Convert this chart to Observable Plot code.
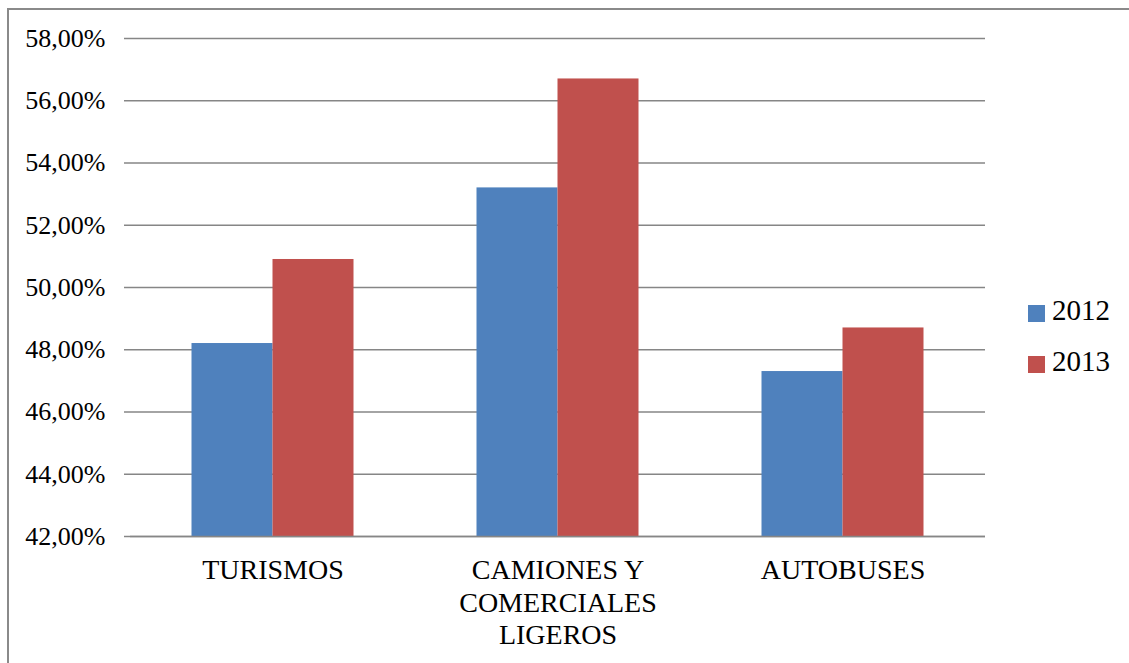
<!DOCTYPE html>
<html>
<head>
<meta charset="utf-8">
<script src="https://cdn.jsdelivr.net/npm/d3@7"></script>
<script src="https://cdn.jsdelivr.net/npm/@observablehq/plot@0.6"></script>
<style>
  html, body { margin: 0; padding: 0; background: #fff; }
  #page { position: relative; width: 1129px; height: 663px; overflow: hidden; font-family: "Liberation Serif", Tinos, "DejaVu Serif", serif; }
  #box { position: absolute; left: 7px; top: 8px; width: 1300px; height: 800px; border-left: 2px solid #8a8a8a; border-top: 2px solid #8a8a8a; box-sizing: border-box; }
  #chart { position: absolute; left: 0; top: 0; }
  #chart svg, #chart svg text { font-family: "Liberation Serif", Tinos, "DejaVu Serif", serif !important; }
  .legend { position: absolute; left: 1028px; font-size: 29px; color: #000; line-height: 1; }
  .legend .sw { position: absolute; left: 0; width: 17px; height: 17px; }
  .legend .lb { position: absolute; left: 24px; white-space: nowrap; }
</style>
</head>
<body>
<div id="page">
  <div id="box"></div>
  <div id="chart"></div>
  <div id="legend"></div>
</div>
<script>
// Vehicle categories and the share (%) for each year
const categories = ["TURISMOS", "CAMIONES Y\nCOMERCIALES\nLIGEROS", "AUTOBUSES"];
const years = ["2012", "2013"];
const values2012 = [48.2, 53.2, 47.3];
const values2013 = [50.9, 56.7, 48.7];
const yTicks = [42, 44, 46, 48, 50, 52, 54, 56, 58];
const colors = ["#4F81BD", "#C0504D"];

const rows2012 = categories.map((c, i) => ({category: c, year: years[0], value: values2012[i]}));
const rows2013 = categories.map((c, i) => ({category: c, year: years[1], value: values2013[i]}));

const gridColor = "#868686";
const serif = "'Liberation Serif', Tinos, 'DejaVu Serif', serif";
const fmt = d => d.toFixed(2).replace(".", ",") + "%";

// Left axis line and the tick marks between categories, placed from the x band scale
function categoryFrame(index, scales, values, dims) {
  const sx = scales.x;
  const sy = scales.y;
  const bw = typeof sx.bandwidth === "function" ? sx.bandwidth() : scales.scales.x.bandwidth;
  const y0 = sy(yTicks[0]);
  const y1 = sy(yTicks[yTicks.length - 1]);
  const edges = categories.map(c => sx(c));
  edges.push(sx(categories[categories.length - 1]) + bw);
  const g = d3.create("svg:g").attr("stroke", gridColor).attr("stroke-width", 1.5);
  g.append("line").attr("x1", edges[0]).attr("x2", edges[0]).attr("y1", y1).attr("y2", y0);
  for (const e of edges) {
    g.append("line").attr("x1", e).attr("x2", e).attr("y1", y0).attr("y2", y0 + 8);
  }
  return g.node();
}

const bandHalf = (985 - 130) / categories.length / 2;
const barW = 81;

const chart = Plot.plot({
  width: 1129,
  height: 663,
  marginLeft: 130,
  marginRight: 144,
  marginTop: 38,
  marginBottom: 127,
  style: {fontFamily: serif, color: "#000", background: "transparent"},
  x: {domain: categories, padding: 0, label: null},
  y: {domain: [42, 58], label: null},
  marks: [
    Plot.gridY(yTicks, {stroke: gridColor, strokeOpacity: 1, strokeWidth: 1.5}),
    Plot.barY(rows2012, {x: "category", y1: 42, y2: "value", fill: colors[0], insetLeft: bandHalf - barW, insetRight: bandHalf}),
    Plot.barY(rows2013, {x: "category", y1: 42, y2: "value", fill: colors[1], insetLeft: bandHalf, insetRight: bandHalf - barW}),
    Plot.ruleY(yTicks.slice(0, 1), {stroke: gridColor, strokeWidth: 1.5}),
    Plot.axisY(yTicks, {tickFormat: fmt, tickSize: 6, tickPadding: 19, fontSize: 26, fontFamily: serif, stroke: gridColor, strokeWidth: 1.5, label: null}),
    Plot.axisX({tickSize: 0, tickPadding: 20, fontSize: 28, fontFamily: serif, lineHeight: 1.15, label: null}),
    Plot.ruleX([0], {render: categoryFrame})
  ]
});
document.getElementById("chart").appendChild(chart);

// Legend on the right
const legend = document.getElementById("legend");
const legendTops = [305, 356];
years.forEach((yr, i) => {
  const item = document.createElement("div");
  item.className = "legend";
  item.style.top = legendTops[i] + "px";
  item.innerHTML = `<span class="sw" style="background:${colors[i]}"></span><span class="lb" style="top:-9px">${yr}</span>`;
  legend.appendChild(item);
});
</script>
</body>
</html>
